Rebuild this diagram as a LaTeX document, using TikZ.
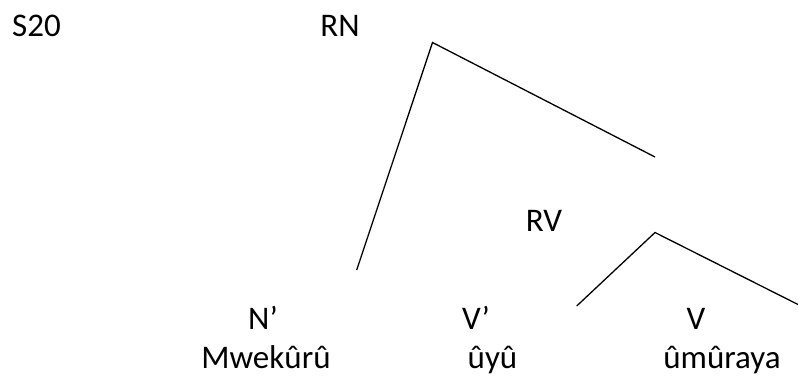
\documentclass[tikz,border=0pt]{standalone}
\usepackage{fontspec}
\setmainfont{Carlito}
\begin{document}
\begin{tikzpicture}[x=1pt,y=-1pt,
  lbl/.style={anchor=base,inner sep=0pt,font=\fontsize{33}{38}\selectfont},
  branch/.style={line width=1.3pt,black}]
\useasboundingbox (0,0) rectangle (798,384);
\node[lbl] (s20) at (36.5,36) {S20};
\node[lbl] (rn) at (340,36) {RN};
\node[lbl] (rv) at (544,231.7) {RV};
\node[lbl] (np) at (263,329) {N’};
\node[lbl] (vp) at (476,329) {V’};
\node[lbl] (v) at (696,329) {V};
\node[lbl] (w1) at (266,368) {Mwekûrû};
\node[lbl] (w2) at (492.5,368) {ûyû};
\node[lbl] (w3) at (722,368.5) {ûmûraya};
\coordinate (a1) at (356.7,270);
\coordinate (t1) at (432.5,42.5);
\coordinate (b1) at (655,157);
\coordinate (a2) at (576.7,306);
\coordinate (t2) at (655,232.5);
\coordinate (b2) at (798,304.5);
\draw[branch] (a1) -- (t1) -- (b1);
\draw[branch] (a2) -- (t2) -- (b2);
\end{tikzpicture}
\end{document}
